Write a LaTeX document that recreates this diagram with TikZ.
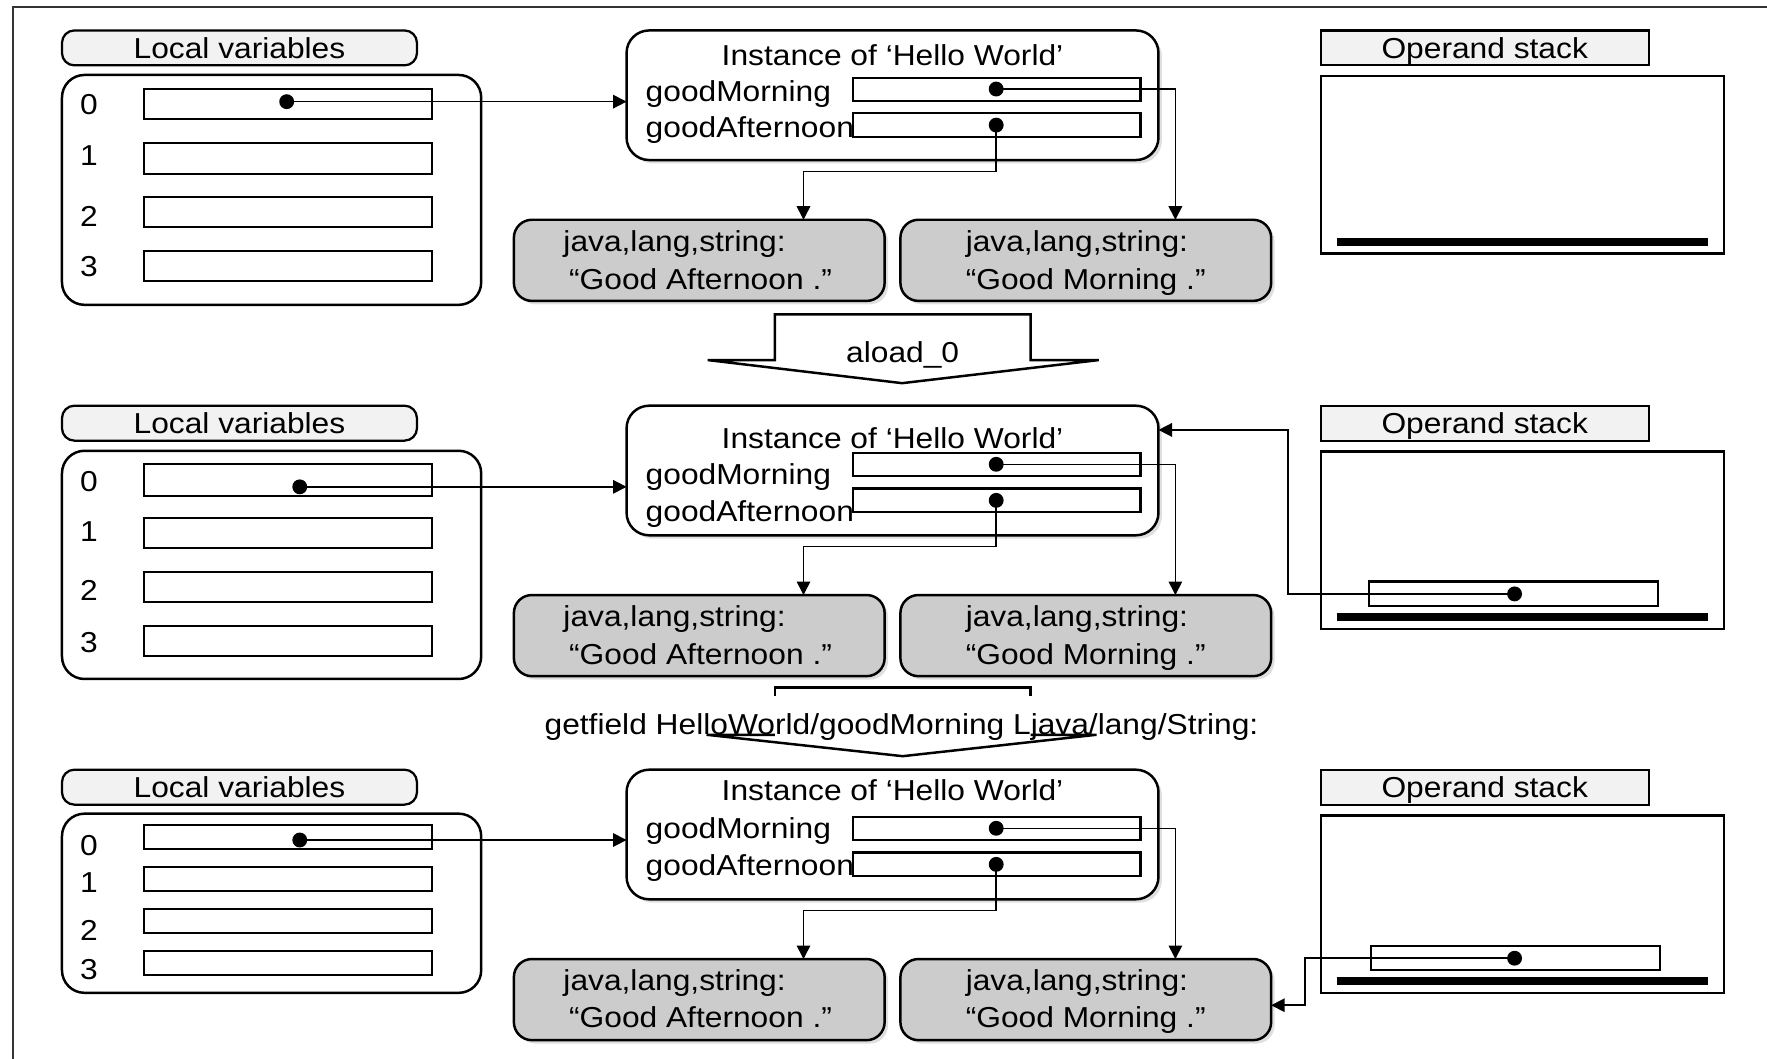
\documentclass[tikz,border=0pt]{standalone}
\usepackage{fontspec}
\setmainfont{Liberation Sans}[FakeStretch=1.1]
\usetikzlibrary{arrows.meta,shadows,calc}
\newcommand\bx[7]{\node[#1,minimum width={((#5)-(#3))*0.5pt},minimum height={((#6)-(#4))*0.5pt}] (#2) at ({((#3)+(#5))/2},{((#4)+(#6))/2}) {#7};}
\begin{document}
\begin{tikzpicture}[x=0.5pt,y=-0.5pt,
  font=\fontsize{12.8}{15}\selectfont,
  base/.style={inner sep=0pt,outer sep=0pt},
  pill/.style={base,draw,line width=1pt,fill=black!5,rounded corners=5.5pt,text height=9.2pt,text depth=0pt},
  ospill/.style={base,draw,line width=1pt,fill=black!5,text height=9.2pt,text depth=0pt},
  lvbox/.style={base,draw,line width=1.1pt,rounded corners=10pt},
  slotbox/.style={base,draw,line width=0.9pt},
  fieldbox/.style={base,draw,line width=1pt},
  inst/.style={base,draw,line width=1.1pt,rounded corners=10pt,fill=white,
    drop shadow={shadow xshift=1.5pt,shadow yshift=-1.5pt,opacity=0.25}},
  strbox/.style={base,draw,line width=1.1pt,rounded corners=8pt,fill=black!20,
    drop shadow={shadow xshift=1.5pt,shadow yshift=-1.5pt,opacity=0.25}},
  stackbox/.style={base,draw,line width=1.1pt},
  dotc/.style={circle,fill=black,inner sep=0pt,minimum size=6.6pt},
  conn/.style={line width=0.7pt,-{Triangle[length=6pt,width=6pt]}},
  bar/.style={line width=3.5pt},
  framel/.style={line width=0.9pt,black!80},
  bigarrow/.style={line width=1.1pt}
]
\useasboundingbox (0,0) rectangle (1568,939);
\clip (0,0) rectangle (1568,939);
\draw[framel] (11.3,960) -- (11.3,6.5) -- (1590,6.5);

% ---------- parts common to the three rows ----------
\foreach \r/\dy/\ty/\gmy/\gay/\sa/\sb in {1/0/58/90/122/223/257, 2/333/398/430/463/556/590, 3/656/710/744/777/879/912} {
  \bx{pill}{lvp\r}{55}{27+\dy}{370}{58+\dy}{Local variables}
  \bx{ospill}{osp\r}{1172}{27+\dy}{1463}{58+\dy}{Operand stack}
  \bx{stackbox}{os\r}{1172}{67.5+\dy}{1530}{225+\dy}{}
  \draw[bar] (1186,{214.5+\dy}) -- (1516,{214.5+\dy});
  \bx{inst}{inst\r}{556}{27+\dy}{1028}{142+\dy}{}
  \node[base,anchor=base] (title\r) at (792,\ty) {Instance of ‘Hello World’};
  \bx{fieldbox}{gmf\r}{757}{69+\dy}{1012}{89.5+\dy}{}
  \bx{fieldbox}{gaf\r}{757}{100.5+\dy}{1012}{121.5+\dy}{}
  \node[base,anchor=base west] (gml\r) at (573,\gmy) {goodMorning};
  \node[base,anchor=base west] (gal\r) at (573,\gay) {goodAfternoon};
  \node[dotc] (gmd\r) at (884,{79+\dy}) {};
  \node[dotc] (gad\r) at (884,{111+\dy}) {};
  \bx{strbox}{gas\r}{456}{195+\dy}{785}{267+\dy}{}
  \bx{strbox}{gms\r}{799}{195+\dy}{1128}{267+\dy}{}
  \node[base,anchor=base west] (gat\r) at (500,\sa) {java,lang,string:};
  \node[base,anchor=base west] (gau\r) at (505,\sb) {“Good Afternoon .”};
  \node[base,anchor=base west] (gmt\r) at (857,\sa) {java,lang,string:};
  \node[base,anchor=base west] (gmu\r) at (857,\sb) {“Good Morning .”};
  \draw[conn] (gmd\r.center) -| ($(gms\r.north)+(79.5,0)$);
  \draw[conn] (gad\r.center) -- ++(0,41) -| ($(gas\r.north)+(92.5,0)$);
}

% ---------- row 1 local variables ----------
\bx{lvbox}{lv1}{55}{66.5}{427}{270.5}{}
\foreach \i/\a/\b/\c in {0/79/106/93, 1/127/154/138.4, 2/174.5/201/192, 3/222.5/249/236.6} {
  \bx{slotbox}{sa\i}{128}{\a}{383}{\b}{}
  \node[base] (ia\i) at (79,\c) {\i};
}
\node[dotc] (lvd1) at (254.4,90.2) {};
\draw[conn] (lvd1.center) -- (lvd1.center -| inst1.west);

% ---------- row 2 local variables ----------
\bx{lvbox}{lv2}{55}{400}{427}{602.5}{}
\foreach \i/\a/\b/\c in {0/412/440/427.4, 1/460/486.5/471.8, 2/507.6/534/524, 3/555.5/582/570} {
  \bx{slotbox}{sb\i}{128}{\a}{383}{\b}{}
  \node[base] (ib\i) at (79,\c) {\i};
}
\node[dotc] (lvd2) at (266,432) {};
\draw[conn] (lvd2.center) -- (lvd2.center -| inst2.west);

% ---------- row 3 local variables ----------
\bx{lvbox}{lv3}{55}{722}{427}{881}{}
\foreach \i/\a/\b/\c in {0/732/753.4/750, 1/769.5/791/783.6, 2/806.8/827.6/826, 3/843.6/865.5/860.7} {
  \bx{slotbox}{sc\i}{128}{\a}{383}{\b}{}
  \node[base] (ic\i) at (79,\c) {\i};
}
\node[dotc] (lvd3) at (266,745.4) {};
\draw[conn] (lvd3.center) -- (lvd3.center -| inst3.west);

% ---------- operand stack entries ----------
\bx{slotbox}{ss2}{1215}{516}{1471}{538}{}
\node[dotc] (sd2) at (1344,527) {};
\draw[conn] (sd2.center) -| ($(inst2.north east)+(115,21.5)$) -- ($(inst2.north east)+(0,21.5)$);

\bx{slotbox}{ss3}{1217}{839.4}{1473}{860.7}{}
\node[dotc] (sd3) at (1344,850.3) {};
\draw[conn] (sd3.center) -| ($(gms3.east)+(30,5)$) -- ($(gms3.east)+(0,5)$);

% ---------- instruction arrows ----------
\draw[bigarrow,fill=white] (687.5,279) -- (914.5,279) -- (914.5,319.5) -- (975,319.5)
  -- (800.5,340) -- (628,319.5) -- (687.5,319.5) -- cycle;
\node[base,anchor=base] (aload) at (801,322) {aload\_0};

\draw[bigarrow] (687.5,618) -- (687.5,610) -- (914.5,610) -- (914.5,618);
\node[base,anchor=base] (getf) at (800,652) {getfield HelloWorld/goodMorning Ljava/lang/String:};
\draw[bigarrow] (687.5,652) -- (627,652) -- (801,671) -- (973,652) -- (914.5,652);
\end{tikzpicture}
\end{document}
